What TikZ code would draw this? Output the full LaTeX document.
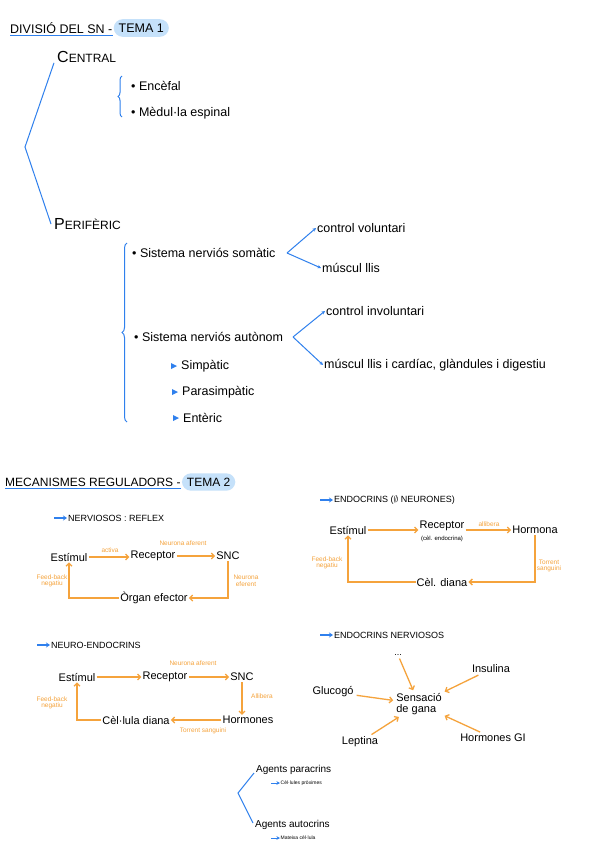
\documentclass[tikz,border=0pt]{standalone}
\usepackage{fontspec}
\setmainfont{Liberation Sans}
\usetikzlibrary{arrows.meta,decorations.pathreplacing}
\definecolor{bl}{HTML}{2F80ED}
\definecolor{hl}{HTML}{C5E1FA}
\definecolor{og}{HTML}{F5A33C}
\newcommand{\myfs}[1]{\fontsize{#1}{#1}\selectfont}
\begin{document}
\begin{tikzpicture}[x=1pt,y=-1pt,
  lbl/.style={font=\myfs{11}, inner sep=1pt},
  tp/.style={font=\myfs{12.5}, inner sep=1pt, anchor=west},
  olbl/.style={font=\myfs{6.5}, text=og, align=center, inner sep=0.5pt},
  oarr/.style={draw=og, line width=1.3pt, -{Straight Barb[length=3pt,width=6pt]}},
  bline/.style={draw=bl, line width=1pt},
  barr/.style={draw=bl, line width=1pt, -{Stealth[length=3.5pt,width=3.5pt]}},
  harr/.style={draw=bl, line width=1.4pt, -{Stealth[length=4pt,width=5pt]}},
  bhead/.style={font=\myfs{9}, inner sep=1pt, anchor=west},
  ttl/.style={anchor=west, inner sep=0pt},
  tema/.style={anchor=west, fill=hl, rounded corners=9pt, inner xsep=5pt, inner ysep=4.5pt},
  agl/.style={font=\myfs{10}, inner sep=1pt, anchor=west},
  sub/.style={font=\myfs{5}, inner sep=0.5pt, anchor=west},
]
\useasboundingbox[fill=white] (0,0) rectangle (599,848);

% ---------- TEMA 1 ----------
\node[ttl, font=\myfs{12.5}] (t1) at (10,28) {DIVISIÓ DEL SN -};
\node[tema, font=\myfs{12.5}] (t1b) at ([xshift=1pt]t1.east) {TEMA 1};
\draw[bline] ([yshift=-2pt]t1.south west) -- ([yshift=-2pt]t1.south east);

\node[anchor=west, inner sep=0pt] (cen) at (57,57) {{\myfs{16}C}{\myfs{12}ENTRAL}};
\node[anchor=west, inner sep=0pt] (per) at (54,224) {{\myfs{16}P}{\myfs{12}ERIFÈRIC}};
\coordinate (bv) at (25,147);
\draw[bline] ([xshift=-3pt]cen.south west) -- (bv) -- ([xshift=-3pt]per.west);

\node[tp] (enc) at (130,86) {• Encèfal};
\node[tp] (med) at (130,113) {• Mèdul·la espinal};
\draw[bline, decorate, decoration={brace, amplitude=4pt}] (122,117) -- (122,76);

\node[tp] (som) at (131,253) {• Sistema nerviós somàtic};
\node[tp] (cv) at (316,228) {control voluntari};
\node[tp] (ml) at (321,268) {múscul llis};
\coordinate (sv) at (287,253);
\draw[barr] (sv) -- (cv.west);
\draw[barr] (sv) -- (ml.west);

\node[tp] (aut) at (133,337) {• Sistema nerviós autònom};
\node[tp] (ci) at (325,311) {control involuntari};
\node[tp] (mc) at (323,365) {múscul llis i cardíac, glàndules i digestiu};
\coordinate (av) at (293,337);
\draw[barr] (av) -- (ci.west);
\draw[barr] (av) -- (mc.west);

\node[tp] (sim) at (180,366) {Simpàtic};
\node[tp] (par) at (181,392) {Parasimpàtic};
\node[tp] (ent) at (182,418) {Entèric};
\foreach \n in {sim,par,ent}
  \fill[bl] ([xshift=-9pt,yshift=3pt]\n.west) -- ([xshift=-3pt]\n.west) -- ([xshift=-9pt,yshift=-3pt]\n.west) -- cycle;
\draw[bline, decorate, decoration={brace, amplitude=5pt}] (127,422) -- (127,243);

% ---------- TEMA 2 ----------
\node[ttl, font=\myfs{12}] (t2) at (5,482) {MECANISMES REGULADORS -};
\node[tema, font=\myfs{12}] (t2b) at ([xshift=1pt]t2.east) {TEMA 2};
\draw[bline] ([yshift=-2pt]t2.south west) -- ([yshift=-2pt]t2.south east);

% Nerviosos : reflex
\node[bhead] (h1) at (67,518) {NERVIOSOS : REFLEX};
\draw[harr] ([xshift=-13pt]h1.west) -- (h1.west);
\node[lbl] (r1e) at (69,557) {Estímul};
\node[lbl] (r1r) at (153,556) {Receptor};
\node[lbl] (r1s) at (228,556) {SNC};
\node[lbl] (r1o) at (154,598) {Òrgan efector};
\draw[oarr] (r1e.east) -- (r1e.east -| r1r.west);
\draw[oarr] (r1r) -- (r1s);
\draw[oarr] (r1s.south) |- (r1o.east);
\draw[oarr] (r1o.west) -| (r1e.south);
\node[olbl] at (110,550) {activa};
\node[olbl] at (183,543) {Neurona aferent};
\node[olbl] at (246,581) {Neurona\\eferent};
\node[olbl] at (52,581) {Feed-back\\negatiu};

% Endocrins
\node[bhead] (h2) at (333,500) {ENDOCRINS ($\emptyset$ NEURONES)};
\draw[harr] ([xshift=-13pt]h2.west) -- (h2.west);
\node[lbl] (e1e) at (348,530) {Estímul};
\node[lbl] (e1r) at (442,526) {Receptor};
\node[font=\myfs{6}, inner sep=0.5pt] at (442,539) {(cèl. endocrina)};
\node[lbl] (e1h) at (535,530) {Hormona};
\node[lbl] (e1c) at (442,582) {Cèl. diana};
\draw[oarr] (e1e.east) -- (e1e.east -| e1r.west);
\draw[oarr] (e1r.east |- e1h.west) -- (e1h.west);
\draw[oarr] (e1h.south) |- (e1c.east);
\draw[oarr] (e1c.west) -| (e1e.south);
\node[olbl] at (489,524) {allibera};
\node[olbl] at (549,566) {Torrent\\sanguini};
\node[olbl] at (327,563) {Feed-back\\negatiu};

% Neuro-endocrins
\node[bhead] (h3) at (50,645) {NEURO-ENDOCRINS};
\draw[harr] ([xshift=-13pt]h3.west) -- (h3.west);
\node[lbl] (n1e) at (77,677) {Estímul};
\node[lbl] (n1r) at (165,677) {Receptor};
\node[lbl] (n1s) at (242,677) {SNC};
\node[lbl] (n1h) at (248,720) {Hormones};
\node[lbl] (n1c) at (136,720) {Cèl·lula diana};
\draw[oarr] (n1e) -- (n1r);
\draw[oarr] (n1r) -- (n1s);
\draw[oarr] (n1s.south) -- (n1s.south |- n1h.north);
\draw[oarr] (n1h) -- (n1c);
\draw[oarr] (n1c.west) -| (n1e.south);
\node[olbl] at (193,663) {Neurona aferent};
\node[olbl] at (262,696) {Allibera};
\node[olbl] at (203,731) {Torrent sanguini};
\node[olbl] at (52,703) {Feed-back\\negatiu};

% Endocrins nerviosos
\node[bhead] (h4) at (333,635) {ENDOCRINS NERVIOSOS};
\draw[harr] ([xshift=-13pt]h4.west) -- (h4.west);
\node[lbl, align=left] (gana) at (419,704) {Sensació\\de gana};
\node[lbl, font=\myfs{9}] (dots) at (398,655) {...};
\node[lbl] (ins) at (491,669) {Insulina};
\node[lbl] (glu) at (333,692) {Glucogó};
\node[lbl] (lep) at (360,742) {Leptina};
\node[lbl] (hgi) at (493,738) {Hormones GI};
\foreach \n in {dots,ins,glu,lep,hgi}
  \draw[oarr, shorten <=2pt, shorten >=2pt] (\n) -- (gana);

% Agents
\node[agl] (ap) at (255,770) {Agents paracrins};
\node[agl] (aa) at (254,825) {Agents autocrins};
\coordinate (agv) at (238,793);
\draw[bline] ([xshift=-1pt,yshift=-3pt]ap.west) -- (agv) -- ([xshift=-1pt,yshift=2pt]aa.west);
\node[sub] (sp) at (280,783) {Cèl·lules pròximes};
\node[sub] (sa) at (280,838) {Mateixa cèl·lula};
\draw[barr, line width=0.8pt] ([xshift=-9pt]sp.west) -- (sp.west);
\draw[barr, line width=0.8pt] ([xshift=-9pt]sa.west) -- (sa.west);
\end{tikzpicture}
\end{document}
